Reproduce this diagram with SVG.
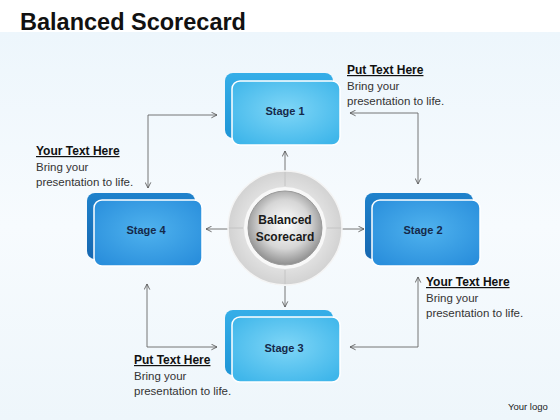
<svg xmlns="http://www.w3.org/2000/svg" width="560" height="420" viewBox="0 0 560 420">
<defs>
<linearGradient id="bg" x1="0" y1="0" x2="0" y2="1">
<stop offset="0" stop-color="#edf6fc"/><stop offset="0.5" stop-color="#f7fbfe"/><stop offset="1" stop-color="#eef6fb"/>
</linearGradient>
<radialGradient id="lightFront" cx="0.5" cy="0.45" r="0.65">
<stop offset="0" stop-color="#7fd6f7"/><stop offset="1" stop-color="#3fb6ea"/>
</radialGradient>
<radialGradient id="darkFront" cx="0.5" cy="0.45" r="0.65">
<stop offset="0" stop-color="#4fb2ee"/><stop offset="1" stop-color="#2a8fdc"/>
</radialGradient>
<linearGradient id="lightBack" x1="0" y1="0" x2="0" y2="1">
<stop offset="0" stop-color="#35aee8"/><stop offset="1" stop-color="#1e95d6"/>
</linearGradient>
<linearGradient id="darkBack" x1="0" y1="0" x2="0" y2="1">
<stop offset="0" stop-color="#1f82cc"/><stop offset="1" stop-color="#1667b0"/>
</linearGradient>
<radialGradient id="ring" cx="0.5" cy="0.5" r="0.5">
<stop offset="0.6" stop-color="#e6e6e6"/><stop offset="1" stop-color="#d2d2d2"/>
</radialGradient>
<radialGradient id="sphere" cx="0.5" cy="0.45" r="0.55">
<stop offset="0" stop-color="#ffffff"/><stop offset="0.6" stop-color="#d6d6d6"/><stop offset="1" stop-color="#8e8e8e"/>
</radialGradient>
<marker id="ah" viewBox="0 0 10 10" refX="9" refY="5" markerWidth="7" markerHeight="7" orient="auto-start-reverse" markerUnits="userSpaceOnUse">
<path d="M1,1 L9,5 L1,9" fill="none" stroke="#555" stroke-width="1.2"/>
</marker>
<style>
.title{font-family:"Liberation Sans",Arial,sans-serif;font-weight:bold;font-size:23.5px;fill:#111}
.stage{font-family:"Liberation Sans",Arial,sans-serif;font-weight:bold;font-size:11px;fill:#15294a;text-anchor:middle}
.ctr{font-family:"Liberation Sans",Arial,sans-serif;font-weight:bold;font-size:12px;fill:#1a1a1a;text-anchor:middle}
.hd{font-family:"Liberation Sans",Arial,sans-serif;font-weight:bold;font-size:12px;fill:#111;text-decoration:underline}
.bd{font-family:"Liberation Sans",Arial,sans-serif;font-size:11.5px;fill:#333}
.logo{font-family:"Liberation Sans",Arial,sans-serif;font-size:9.5px;fill:#222}
.conn{fill:none;stroke:#666;stroke-width:0.9}
.front{stroke:#ffffff;stroke-width:1.5}
</style>
</defs>
<rect x="0" y="0" width="560" height="420" fill="#ffffff"/>
<rect x="0" y="32" width="560" height="388" fill="url(#bg)"/>
<text class="title" x="20" y="30">Balanced Scorecard</text>

<g id="connectors">
<line class="conn" x1="285" y1="171" x2="285" y2="151" marker-end="url(#ah)"/>
<line class="conn" x1="228" y1="229" x2="206" y2="229" marker-end="url(#ah)"/>
<line class="conn" x1="342" y1="229" x2="364" y2="229" marker-end="url(#ah)"/>
<line class="conn" x1="285" y1="286" x2="285" y2="307" marker-end="url(#ah)"/>
<polyline class="conn" points="148,188 148,115 217,115" marker-start="url(#ah)" marker-end="url(#ah)"/>
<polyline class="conn" points="350,113 418,113 418,184" marker-start="url(#ah)" marker-end="url(#ah)"/>
<polyline class="conn" points="418,277 418,347 350,347" marker-start="url(#ah)" marker-end="url(#ah)"/>
<polyline class="conn" points="217,347 147,347 147,284" marker-start="url(#ah)" marker-end="url(#ah)"/>
</g>

<g id="center">
<circle cx="285" cy="228" r="57" fill="url(#ring)" stroke="#f4f4f4" stroke-width="1.5"/>
<line x1="285" y1="172" x2="285" y2="186" stroke="#c4c4c4" stroke-width="1"/>
<line x1="285" y1="270" x2="285" y2="284" stroke="#c4c4c4" stroke-width="1"/>
<line x1="229" y1="228" x2="243" y2="228" stroke="#c4c4c4" stroke-width="1"/>
<line x1="327" y1="228" x2="341" y2="228" stroke="#c4c4c4" stroke-width="1"/>
<circle cx="285" cy="228" r="41" fill="#f8f8f8"/>
<circle cx="285" cy="228" r="37" fill="url(#sphere)" stroke="#9a9a9a" stroke-width="1"/>
<text class="ctr" x="285" y="224">Balanced</text>
<text class="ctr" x="285" y="241">Scorecard</text>
</g>

<g id="stage1">
<rect x="225" y="73" width="108" height="65" rx="8" fill="url(#lightBack)"/>
<rect x="232" y="81" width="108" height="64" rx="8" fill="url(#lightFront)" class="front"/>
<text class="stage" x="285" y="115">Stage 1</text>
</g>
<g id="stage2">
<rect x="365" y="193" width="108" height="66" rx="8" fill="url(#darkBack)"/>
<rect x="372" y="200" width="108" height="66" rx="8" fill="url(#darkFront)" class="front"/>
<text class="stage" x="423" y="234">Stage 2</text>
</g>
<g id="stage3">
<rect x="225" y="310" width="108" height="65" rx="8" fill="url(#lightBack)"/>
<rect x="232" y="317" width="108" height="65" rx="8" fill="url(#lightFront)" class="front"/>
<text class="stage" x="284" y="352">Stage 3</text>
</g>
<g id="stage4">
<rect x="87" y="193" width="108" height="66" rx="8" fill="url(#darkBack)"/>
<rect x="94" y="200" width="108" height="66" rx="8" fill="url(#darkFront)" class="front"/>
<text class="stage" x="146" y="234">Stage 4</text>
</g>

<g id="note1">
<text class="hd" x="347" y="74">Put Text Here</text>
<text class="bd" x="347" y="90">Bring your</text>
<text class="bd" x="347" y="105">presentation to life.</text>
</g>
<g id="note2">
<text class="hd" x="36" y="155">Your Text Here</text>
<text class="bd" x="36" y="171">Bring your</text>
<text class="bd" x="36" y="186">presentation to life.</text>
</g>
<g id="note3">
<text class="hd" x="426" y="286">Your Text Here</text>
<text class="bd" x="426" y="302">Bring your</text>
<text class="bd" x="426" y="317">presentation to life.</text>
</g>
<g id="note4">
<text class="hd" x="134" y="364">Put Text Here</text>
<text class="bd" x="134" y="380">Bring your</text>
<text class="bd" x="134" y="395">presentation to life.</text>
</g>
<text class="logo" x="508" y="410">Your logo</text>
</svg>
